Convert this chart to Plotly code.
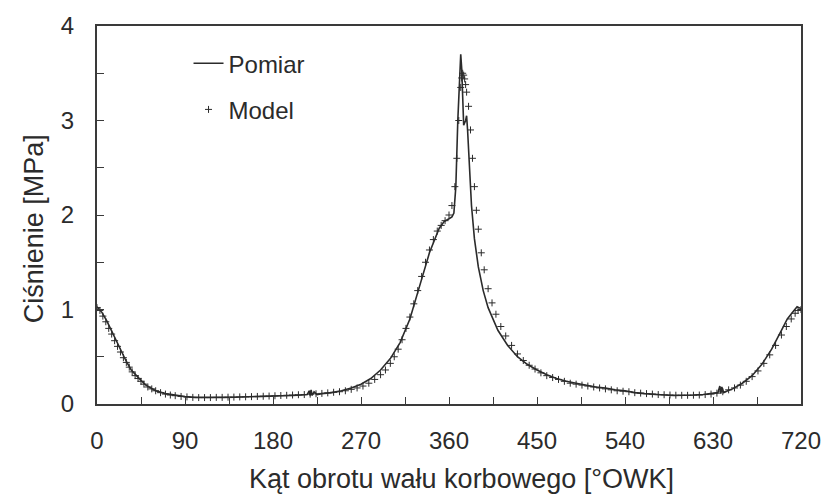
import plotly.graph_objects as go

# Measured (Pomiar)
pomiar_deg = [0, 5, 10, 15, 20, 25, 30, 35, 40, 45, 50, 55, 60, 70, 80, 90, 100, 110, 120, 130,
              140, 150, 160, 170, 180, 190, 200, 210, 215, 217, 218, 219, 220, 222, 225, 230, 240,
              250, 260, 270, 280, 290, 300, 310, 320, 330, 340, 350, 355, 360, 363, 365, 367, 369,
              371, 372, 373, 374, 375, 377, 378, 379, 381, 383, 386, 390, 395, 400, 410, 420, 430,
              440, 450, 460, 470, 480, 490, 500, 510, 520, 530, 540, 550, 560, 570, 580, 590, 600,
              610, 620, 630, 635, 637, 638, 639, 641, 645, 650, 660, 670, 680, 690, 700, 706, 712,
              716, 720]
pomiar_mpa = [1.03, 0.97, 0.88, 0.77, 0.66, 0.55, 0.45, 0.36, 0.3, 0.25, 0.2, 0.17, 0.14, 0.11,
              0.09, 0.078, 0.07, 0.068, 0.068, 0.07, 0.072, 0.074, 0.076, 0.078, 0.08, 0.085, 0.09,
              0.095, 0.1, 0.14, 0.09, 0.15, 0.09, 0.13, 0.1, 0.11, 0.12, 0.14, 0.17, 0.21, 0.27,
              0.36, 0.48, 0.65, 0.9, 1.25, 1.6, 1.86, 1.93, 1.96, 1.98, 2.02, 2.3, 3.0, 3.6, 3.7,
              3.55, 3.1, 2.95, 3.0, 3.05, 2.9, 2.5, 2.1, 1.75, 1.45, 1.2, 1.02, 0.78, 0.62, 0.5,
              0.42, 0.36, 0.31, 0.27, 0.24, 0.22, 0.2, 0.18, 0.17, 0.15, 0.14, 0.12, 0.11, 0.1,
              0.095, 0.09, 0.09, 0.095, 0.1, 0.11, 0.12, 0.19, 0.11, 0.18, 0.12, 0.14, 0.16, 0.22,
              0.3, 0.42, 0.58, 0.78, 0.9, 0.98, 1.03, 1.01]

# Model
model_deg = [0, 3, 6, 9, 12, 15, 18, 21, 24, 27, 30, 33, 36, 39, 42, 45, 48, 52, 56, 60, 65, 70,
             75, 80, 86, 92, 98, 104, 110, 116, 122, 128, 134, 140, 146, 152, 158, 164, 170, 176,
             182, 188, 194, 200, 206, 212, 218, 224, 230, 236, 242, 248, 254, 260, 266, 272, 278,
             284, 290, 295, 300, 304, 308, 312, 316, 320, 324, 328, 332, 336, 340, 344, 348, 352,
             356, 360, 363, 366, 368, 370, 372, 373, 374, 375, 376, 377, 378, 380, 382, 384, 386,
             388, 390, 393, 396, 400, 404, 408, 413, 418, 424, 430, 436, 442, 448, 454, 460, 466,
             472, 478, 484, 490, 496, 502, 508, 514, 520, 526, 532, 538, 544, 550, 556, 562, 568,
             574, 580, 586, 592, 598, 604, 610, 616, 622, 628, 634, 640, 646, 652, 658, 664, 670,
             676, 682, 688, 694, 700, 705, 710, 714, 717, 720]
model_mpa = [1.02, 0.99, 0.93, 0.87, 0.8, 0.74, 0.67, 0.61, 0.55, 0.49, 0.44, 0.39, 0.34, 0.3,
             0.27, 0.24, 0.21, 0.18, 0.16, 0.14, 0.12, 0.105, 0.095, 0.088, 0.08, 0.075, 0.07,
             0.068, 0.068, 0.068, 0.07, 0.07, 0.072, 0.073, 0.075, 0.076, 0.078, 0.08, 0.082,
             0.084, 0.087, 0.09, 0.092, 0.095, 0.098, 0.1, 0.104, 0.108, 0.112, 0.118, 0.124, 0.13,
             0.14, 0.155, 0.17, 0.19, 0.22, 0.26, 0.31, 0.36, 0.43, 0.5, 0.58, 0.68, 0.8, 0.92,
             1.06, 1.2, 1.35, 1.5, 1.63, 1.74, 1.83, 1.89, 1.94, 2.0, 2.1, 2.3, 2.6, 3.0, 3.35, 3.45,
             3.5, 3.48, 3.44, 3.38, 3.3, 3.15, 2.9, 2.6, 2.3, 2.05, 1.85, 1.6, 1.42, 1.22, 1.07,
             0.95, 0.82, 0.72, 0.62, 0.53, 0.46, 0.41, 0.37, 0.33, 0.3, 0.28, 0.26, 0.24, 0.22,
             0.21, 0.2, 0.19, 0.18, 0.17, 0.16, 0.15, 0.14, 0.135, 0.13, 0.12, 0.115, 0.11, 0.105,
             0.1, 0.098, 0.095, 0.093, 0.092, 0.092, 0.093, 0.095, 0.1, 0.105, 0.115, 0.13, 0.15,
             0.17, 0.2, 0.24, 0.29, 0.35, 0.43, 0.52, 0.62, 0.73, 0.82, 0.9, 0.96, 0.99, 1.0]

x_ticks = [0, 90, 180, 270, 360, 450, 540, 630, 720]
y_ticks = [0, 1, 2, 3, 4]
x_title = "Kąt obrotu wału korbowego [°OWK]"
y_title = "Ciśnienie [MPa]"

INK = "#2b2b2b"
FONT = "Liberation Sans, Arial, sans-serif"

fig = go.Figure()
fig.add_trace(go.Scatter(
    x=pomiar_deg, y=pomiar_mpa, mode="lines", name="Pomiar", legendgroup="a",
    line=dict(color=INK, width=1.6),
))
fig.add_trace(go.Scatter(
    x=model_deg, y=model_mpa, mode="markers", name="Model", legendgroup="b",
    marker=dict(symbol="cross-thin", size=5, line=dict(color=INK, width=1), color=INK),
))

axis_common = dict(
    showline=True, linecolor="#3a3a3a", linewidth=2, mirror=True,
    ticks="inside", ticklen=7, tickwidth=1, tickcolor="#3a3a3a",
    showgrid=False, zeroline=False,
    tickfont=dict(family=FONT, size=24, color=INK),
)

fig.update_layout(
    width=835, height=500,
    margin=dict(l=97, r=34, t=21, b=96),
    paper_bgcolor="white", plot_bgcolor="white",
    font=dict(family=FONT, color=INK),
    xaxis=dict(
        range=[0, 720], tickvals=x_ticks, ticktext=[str(v) for v in x_ticks],
        minor=dict(dtick=45, ticks="inside", ticklen=7, tickcolor="#3a3a3a", showgrid=False),
        ticklabelstandoff=14,
        **axis_common,
    ),
    yaxis=dict(
        range=[0, 4], tickvals=y_ticks, ticktext=[str(v) for v in y_ticks],
        minor=dict(dtick=0.5, ticks="inside", ticklen=7, tickcolor="#3a3a3a", showgrid=False),
        ticklabelstandoff=16,
        **axis_common,
    ),
    legend=dict(
        x=0.13, y=0.96, xanchor="left", yanchor="top",
        bgcolor="rgba(0,0,0,0)", font=dict(family=FONT, size=24, color=INK),
        tracegroupgap=12, itemwidth=30,
    ),
    showlegend=True,
    annotations=[
        dict(text=x_title, xref="paper", yref="paper", x=0.518, y=-0.198,
             xanchor="center", yanchor="middle", showarrow=False,
             font=dict(family=FONT, size=27, color=INK)),
        dict(text=y_title, xref="paper", yref="paper", x=-0.0895, y=0.465,
             xanchor="center", yanchor="middle", showarrow=False, textangle=-90,
             font=dict(family=FONT, size=27, color=INK)),
    ],
)

fig.write_html("out.html")
